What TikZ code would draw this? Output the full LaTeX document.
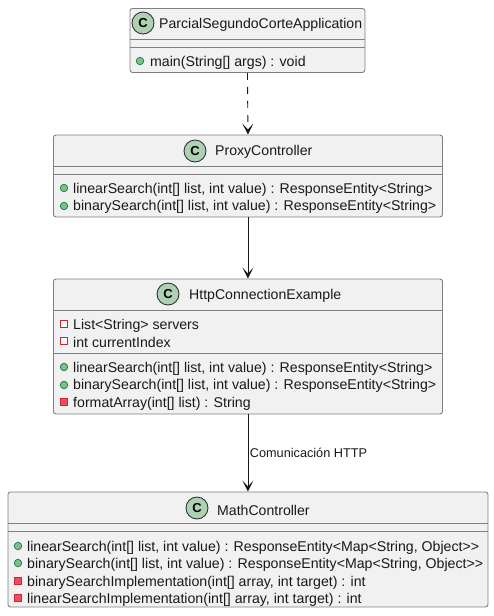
\documentclass[tikz,border=0pt]{standalone}
\usepackage{fontspec}
\setmainfont{Liberation Sans}
\usetikzlibrary{arrows.meta,positioning}
\definecolor{boxfill}{HTML}{F1F1F1}
\definecolor{boxline}{HTML}{7F7F7F}
\definecolor{spotfill}{HTML}{ADD1B2}
\definecolor{pubfill}{HTML}{84BE84}
\definecolor{publine}{HTML}{038048}
\definecolor{privfill}{HTML}{F24D5C}
\definecolor{privline}{HTML}{C82930}

\begin{document}
\begin{tikzpicture}[
  x=1pt, y=-1pt,
  classbox/.style={draw=boxline, fill=boxfill, rounded corners=2.5pt, line width=0.9pt, anchor=north west, inner sep=0pt},
  spot/.style={circle, draw=black!85, fill=spotfill, line width=0.8pt, minimum size=22pt, inner sep=0pt, font=\fontsize{13}{13}\selectfont\bfseries},
  title/.style={font=\fontsize{14.1}{14}\selectfont, anchor=west, inner sep=0pt, text=black!90, yshift=-1pt},
  member/.style={font=\fontsize{14.15}{14}\selectfont, anchor=west, inner sep=0pt, text=black!90, yshift=-1.5pt},
  pubmethod/.style={circle, draw=publine, fill=pubfill, line width=0.7pt, minimum size=7.5pt, inner sep=0pt},
  privmethod/.style={rectangle, draw=privline, fill=privfill, line width=0.7pt, minimum size=7pt, inner sep=0pt},
  privfield/.style={rectangle, draw=privline, fill=white, line width=0.7pt, minimum size=7pt, inner sep=0pt},
  sep/.style={draw=boxline, line width=0.9pt},
  arrow/.style={-{Stealth[length=11pt, width=11pt, inset=6pt]}, line width=0.9pt, draw=black!90}]
  \useasboundingbox (0,0) rectangle (494,616);
  % boxes
  \node[classbox, minimum width=235pt, minimum height=64pt] (app) at (129.5,8) {};
  \node[classbox, minimum width=389pt, minimum height=82pt] (proxy) at (53,134.5) {};
  \node[classbox, minimum width=389pt, minimum height=135pt] (http) at (53,278.5) {};
  \node[classbox, minimum width=480pt, minimum height=115pt] (math) at (7.5,491.5) {};
  % compartments
  \draw[sep] (129.5,39) -- (364.5,39) (129.5,47) -- (364.5,47);
  \draw[sep] (53,166) -- (442,166) (53,174) -- (442,174);
  \draw[sep] (53,310) -- (442,310) (53,353) -- (442,353);
  \draw[sep] (7.5,523) -- (487.5,523) (7.5,531) -- (487.5,531);
  % app
  \node[spot] (appspot) at (143,23) {C};
  \node[title] (apptitle) at (159,24) {ParcialSegundoCorteApplication};
  \node[member] (appmain) at (150,61) {main(String[] args) : void};
  \node[pubmethod] (appmainm) at (140,61) {};
  % proxy
  \node[spot] (proxyspot) at (195,151) {C};
  \node[title] (proxytitle) at (215,151) {ProxyController};
  \node[member] (proxya) at (73,188) {linearSearch(int[] list, int value) : ResponseEntity<String>};
  \node[member] (proxyb) at (73,205) {binarySearch(int[] list, int value) : ResponseEntity<String>};
  \node[pubmethod] (proxyam) at (64,188) {};
  \node[pubmethod] (proxybm) at (64,206) {};
  % http
  \node[spot] (httpspot) at (168,294) {C};
  \node[title] (httptitle) at (189,295) {HttpConnectionExample};
  \node[member] (httpf) at (73,324) {List<String> servers};
  \node[member] (httpg) at (73,341) {int currentIndex};
  \node[member] (httpa) at (73,367) {linearSearch(int[] list, int value) : ResponseEntity<String>};
  \node[member] (httpb) at (73,384) {binarySearch(int[] list, int value) : ResponseEntity<String>};
  \node[member] (httpc) at (73,402) {formatArray(int[] list) : String};
  \node[privfield] (httpfm) at (64,324) {};
  \node[privfield] (httpgm) at (64,341) {};
  \node[pubmethod] (httpam) at (64,367) {};
  \node[pubmethod] (httpbm) at (64,385) {};
  \node[privmethod] (httpcm) at (64,402) {};
  % math
  \node[spot] (mathspot) at (197,508) {C};
  \node[title] (mathtitle) at (217,509) {MathController};
  \node[member] (matha) at (27,546) {linearSearch(int[] list, int value) : ResponseEntity<Map<String, Object>\kern0pt>};
  \node[member] (mathb) at (27,563) {binarySearch(int[] list, int value) : ResponseEntity<Map<String, Object>\kern0pt>};
  \node[member] (mathc) at (27,581) {binarySearchImplementation(int[] array, int target) : int};
  \node[member] (mathd) at (27,598) {linearSearchImplementation(int[] array, int target) : int};
  \node[pubmethod] (matham) at (18,546) {};
  \node[pubmethod] (mathbm) at (18,563) {};
  \node[privmethod] (mathcm) at (18,581) {};
  \node[privmethod] (mathdm) at (18,598) {};
  % connectors
  \draw[arrow, dash pattern=on 7pt off 7pt] (app.south) -- (proxy.north);
  \draw[arrow] (proxy.south) -- (http.north);
  \draw[arrow] (http.south) -- node[right, font=\fontsize{12.7}{12}\selectfont, inner sep=1.5pt, text=black!90] (httplabel) {Comunicación HTTP} (math.north);
\end{tikzpicture}
\end{document}
